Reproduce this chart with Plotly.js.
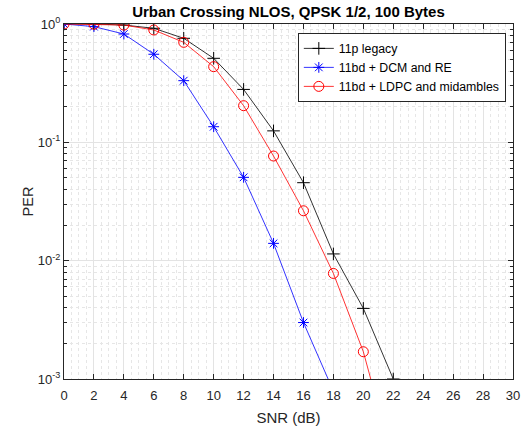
<!DOCTYPE html>
<html>
<head>
<meta charset="utf-8">
<script src="https://cdn.plot.ly/plotly-3.0.1.min.js"></script>
<style>html,body{margin:0;padding:0;background:#fff;}#chart{width:529px;height:430px;}</style>
</head>
<body>
<div id="chart"></div>
<script>
const snr = [0, 2, 4, 6, 8, 10, 12, 14, 16, 18, 20, 22];
const snrBlue = [0, 2, 4, 6, 8, 10, 12, 14, 16, 18];
const snrRed = [0, 2, 4, 6, 8, 10, 12, 14, 16, 18, 20, 22];
const perLegacy = [1.0, 1.0, 0.98, 0.92, 0.757, 0.513, 0.28, 0.125, 0.0456, 0.0114, 0.00395, 0.001];
const perDCM = [1.0, 0.95, 0.823, 0.555, 0.332, 0.1355, 0.0506, 0.014, 0.0030, 0.00079];
const perLDPC = [1.0, 0.995, 0.98, 0.89, 0.70, 0.436, 0.204, 0.0766, 0.0264, 0.0078, 0.0017, 0.0002];
const names = ['11p legacy', '11bd + DCM and RE', '11bd + LDPC and midambles'];
const titleText = 'Urban Crossing NLOS, QPSK 1/2, 100 Bytes';
const xTicks = [0,2,4,6,8,10,12,14,16,18,20,22,24,26,28,30];
const yTickVals = [0.001, 0.01, 0.1, 1];
const yTickText = ['10<sup>-3</sup>', '10<sup>-2</sup>', '10<sup>-1</sup>', '10<sup>0</sup>'];

const font = 'Liberation Sans, Arial, Helvetica, sans-serif';
const traces = [
  {x: snr, y: perLegacy, name: names[0], mode: 'lines+markers',
   line: {color: '#000000', width: 0.8}, marker: {symbol: 'cross-thin-open', size: 9, color: '#000000', line: {color: '#000000', width: 1}}},
  {x: snrBlue, y: perDCM, name: names[1], mode: 'lines+markers',
   line: {color: '#0000ff', width: 0.8}, marker: {symbol: 'asterisk-open', size: 9, color: '#0000ff', line: {color: '#0000ff', width: 1}}},
  {x: snrRed, y: perLDPC, name: names[2], mode: 'lines+markers',
   line: {color: '#ff0000', width: 0.8}, marker: {symbol: 'circle-open', size: 10, color: '#ff0000', line: {color: '#ff0000', width: 1}}}
];
const layout = {
  width: 529, height: 430,
  margin: {l: 64, r: 16, t: 24, b: 51},
  paper_bgcolor: '#ffffff', plot_bgcolor: '#ffffff',
  font: {family: font, size: 12, color: '#262626'},
  title: {text: '<b>' + titleText + '</b>', font: {family: font, size: 15, color: '#000000'},
          x: 0.5, xref: 'paper', xanchor: 'center', y: 0.973, yref: 'container', yanchor: 'middle'},
  showlegend: true,
  legend: {x: 0.984, xanchor: 'right', y: 0.975, yanchor: 'top', bgcolor: '#ffffff',
           bordercolor: '#262626', borderwidth: 1, font: {family: font, size: 12.3, color: '#000000'},
           tracegroupgap: 0, itemwidth: 30},
  xaxis: {range: [0, 30], tickvals: xTicks, ticks: 'inside', ticklen: 5, tickcolor: '#262626',
          showline: true, linecolor: '#262626', linewidth: 1, mirror: 'ticks', zeroline: false,
          showgrid: true, gridcolor: '#e3e3e3', gridwidth: 1, ticklabelstandoff: 4,
          minor: {dtick: 0.5, showgrid: true, griddash: 'dot', gridcolor: '#e6e6e6', ticks: ''},
          tickfont: {size: 13, color: '#262626'},
          title: {text: 'SNR (dB)', font: {size: 15, color: '#262626'}, standoff: 10}},
  yaxis: {type: 'log', range: [-3, 0], tickvals: yTickVals, ticktext: yTickText, ticks: 'inside', ticklen: 5,
          tickcolor: '#262626', showline: true, linecolor: '#262626', linewidth: 1, mirror: 'ticks', zeroline: false,
          showgrid: true, gridcolor: '#e3e3e3', gridwidth: 1,
          minor: {dtick: 'D1', showgrid: true, griddash: 'dot', gridcolor: '#e6e6e6', ticks: 'inside', ticklen: 3, tickcolor: '#262626'},
          tickfont: {size: 13, color: '#262626'},
          title: {text: 'PER', font: {size: 14.5, color: '#262626'}, standoff: 0}}
};
Plotly.newPlot('chart', traces, layout, {displayModeBar: false, staticPlot: true});
</script>
</body>
</html>
